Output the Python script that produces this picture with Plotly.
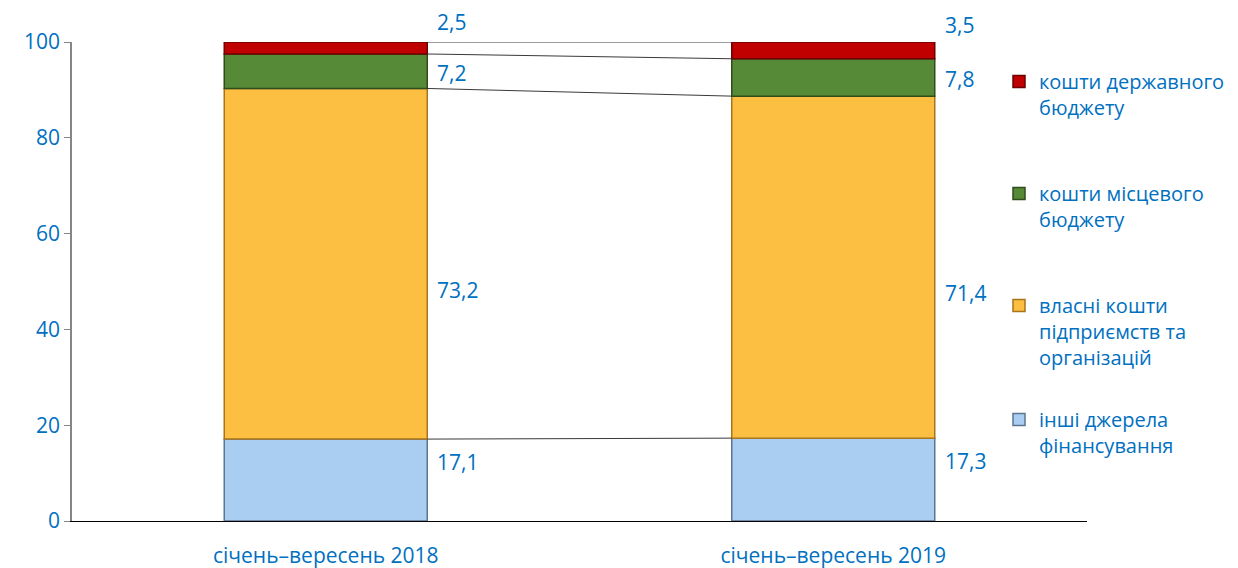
import plotly.graph_objects as go

categories = ["січень–вересень 2018", "січень–вересень 2019"]
series_names = [
    "інші джерела<br>фінансування",
    "власні кошти<br>підприємств та<br>організацій",
    "кошти місцевого<br>бюджету",
    "кошти державного<br>бюджету",
]
other_sources = [17.1, 17.3]
own_funds = [73.2, 71.4]
local_budget = [7.2, 7.8]
state_budget = [2.5, 3.5]
label_texts = [["17,1", "17,3"], ["73,2", "71,4"], ["7,2", "7,8"], ["2,5", "3,5"]]

series_values = [other_sources, own_funds, local_budget, state_budget]
colors = ["#A9CEF2", "#FDBF41", "#578A37", "#C00000"]
line_colors = ["#5B7592", "#A8741C", "#2F4D1C", "#6E0000"]
label_offsets = [3.8, -5.4, -0.4, 5.4]

BLUE = "#0070C0"
FONT = "Open Sans"
FS = 21
W, H = 1238, 568
ML, MR, MT, MB = 64, 159, 34, 55
BAR_W = 0.4

plot_h = H - MT - MB
plot_w = W - ML - MR
Y_MAX = 100
px_per_unit = plot_h / Y_MAX

xs = list(range(len(categories)))

fig = go.Figure()

legend_ids = ["legend4", "legend3", "legend2", "legend"]
cum = [0.0] * len(categories)
tops = []
for i, (vals, name) in enumerate(zip(series_values, series_names)):
    fig.add_trace(go.Bar(
        x=xs, y=vals, base=cum[:], name=name, width=BAR_W,
        marker=dict(color=colors[i], line=dict(color=line_colors[i], width=1.5)),
        legend=legend_ids[i], hoverinfo="skip",
    ))
    for j, v in enumerate(vals):
        mid = cum[j] + v / 2 + label_offsets[i]
        y_in = min(mid, Y_MAX)
        fig.add_annotation(x=xs[j] + BAR_W / 2, y=y_in, text=label_texts[i][j],
                           xanchor="left", yanchor="middle", xshift=8,
                           yshift=(mid - y_in) * px_per_unit, showarrow=False,
                           font=dict(family=FONT, size=FS, color=BLUE))
    cum = [c + v for c, v in zip(cum, vals)]
    tops.append(cum[:])

# series lines between bars
for t in tops:
    fig.add_trace(go.Scatter(
        x=[xs[0] + BAR_W / 2, xs[1] - BAR_W / 2], y=t, mode="lines",
        line=dict(color="#3a3a3a", width=1), showlegend=False, hoverinfo="skip",
    ))

legend_tops = {"legend": 54, "legend2": 166, "legend3": 278, "legend4": 392}
leg_common = dict(font=dict(family=FONT, size=20, color=BLUE), bgcolor="rgba(0,0,0,0)",
                  valign="top", xanchor="left", yanchor="top", itemwidth=30,
                  tracegroupgap=0, xref="container", yref="container")
layout_legends = {}
for k, top in legend_tops.items():
    layout_legends[k] = dict(x=991 / W, y=1 - top / H, **leg_common)

fig.update_layout(
    width=W, height=H,
    margin=dict(l=ML, r=MR, t=MT, b=MB, autoexpand=False),
    barmode="overlay",
    plot_bgcolor="white", paper_bgcolor="white",
    font=dict(family=FONT, size=FS, color=BLUE),
    xaxis=dict(range=[-0.5, 1.5], tickvals=xs, ticktext=categories, showline=True,
               linecolor="#000000", linewidth=1, showgrid=False, zeroline=False,
               ticks="", ticklabelstandoff=16, automargin=False,
               tickfont=dict(family=FONT, size=FS, color=BLUE)),
    yaxis=dict(range=[0, Y_MAX], tickvals=[0, 20, 40, 60, 80, 100], showline=True,
               linecolor="#868686", linewidth=1.5, ticks="outside", ticklen=6,
               tickcolor="#868686", showgrid=False, zeroline=False, automargin=False,
               tickfont=dict(family=FONT, size=FS, color=BLUE)),
    **layout_legends,
)

fig.write_html("out.html")
